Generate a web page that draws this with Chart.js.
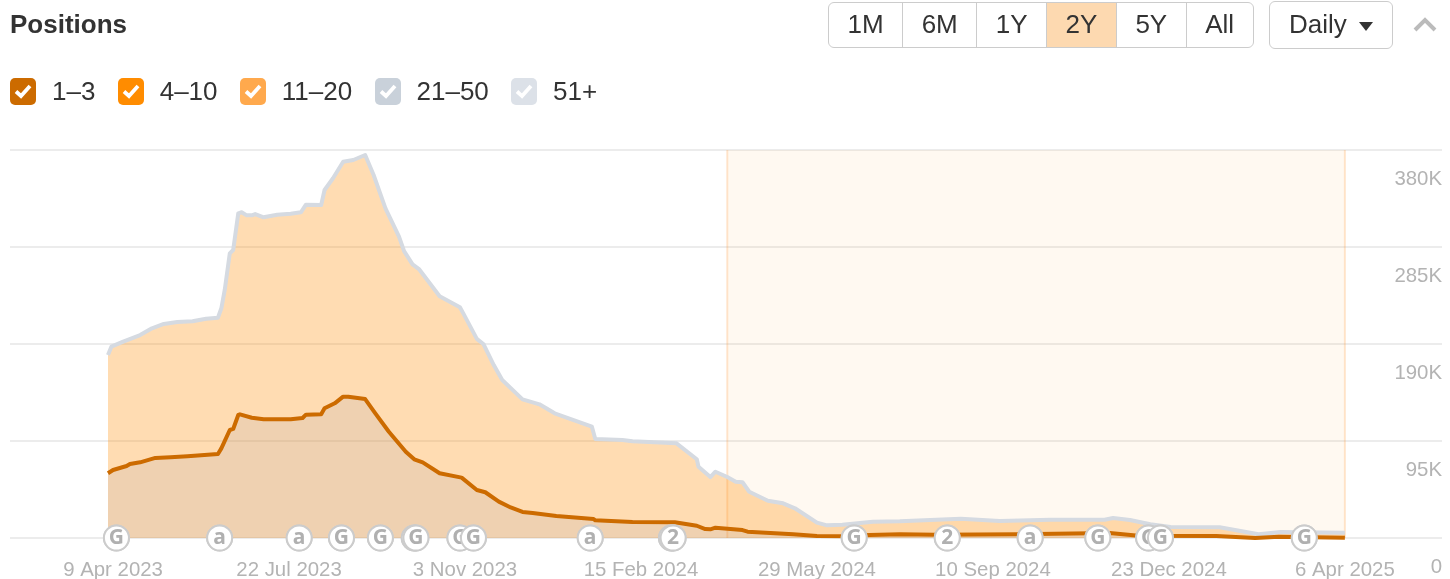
<!DOCTYPE html>
<html>
<head>
<meta charset="utf-8">
<title>Positions</title>
<script src="https://cdn.jsdelivr.net/npm/chart.js@4"></script>
<style>
  html, body { margin: 0; padding: 0; background: #fff; width: 1450px; height: 579px; overflow: hidden; }
  body { font-family: "Liberation Sans", Arial, sans-serif; color: #333; position: relative; }
  canvas { position: absolute; left: 0; top: 0; }
  .title { position: absolute; left: 10px; top: 9px; font-size: 26px; line-height: 30px; font-weight: bold; }
  .legend { position: absolute; left: 10px; top: 76px; display: flex; gap: 22.3px; font-size: 26px; line-height: 30px; }
  .legend .item { display: flex; align-items: center; }
  .legend .box { width: 26px; height: 27px; border-radius: 5px; margin-right: 16px; display: flex; align-items: center; justify-content: center; }
  .ranges { position: absolute; left: 828px; top: 2px; height: 46px; display: flex; box-sizing: border-box; border: 1.5px solid #ccc; border-radius: 6px; overflow: hidden; }
  .ranges div { padding: 0 18.5px; font-size: 26px; line-height: 43px; border-left: 1.5px solid #ccc; }
  .ranges div:first-child { border-left: 0; }
  .ranges .on { background: #fdd9b0; }
  .daily { position: absolute; left: 1269px; top: 1px; width: 124px; height: 48px; box-sizing: border-box; border: 1.5px solid #ccc; border-radius: 6px; font-size: 26px; line-height: 45px; padding-left: 19px; }
  .daily i { position: absolute; left: 89px; top: 20px; border: 7.5px solid transparent; border-top: 9px solid #333; border-bottom: 0; }
  .chev { position: absolute; left: 1413px; top: 16px; }
</style>
</head>
<body>
<canvas id="chart" width="1450" height="579"></canvas>
<div class="title">Positions</div>
<div class="legend" id="legend"></div>
<div class="ranges" id="ranges"></div>
<div class="daily">Daily<i></i></div>
<svg class="chev" width="24" height="16" viewBox="0 0 24 16"><path d="M2 14 L12 4 L22 14" fill="none" stroke="#bbb" stroke-width="4"/></svg>
<script>
const legendNames = ['1–3', '4–10', '11–20', '21–50', '51+'];
const legendColors = ['#cc6b00', '#ff8c00', '#ffa94d', '#c9d1da', '#dce1e8'];
const rangeNames = ['1M', '6M', '1Y', '2Y', '5Y', 'All'];
const activeRange = '2Y';

// days since 6 Apr 2023
const tickDays = [3, 107, 211, 315, 419, 523, 627, 731];
const tickLabels = ['9 Apr 2023', '22 Jul 2023', '3 Nov 2023', '15 Feb 2024', '29 May 2024', '10 Sep 2024', '23 Dec 2024', '6 Apr 2025'];
const yTicks = [0, 95000, 190000, 285000, 380000];
const yTickLabels = ['0', '95K', '190K', '285K', '380K'];

const topDays = [0, 2, 9, 19, 26, 33, 41, 50, 58, 65, 67, 69, 72, 74, 77, 79, 82, 85, 87, 92, 100, 108, 114, 117, 126, 128, 133, 139, 145, 152, 157, 164, 172, 175, 180, 184, 196, 208, 210, 218, 222, 228, 233, 245, 255, 264, 286, 288, 304, 310, 336, 348, 349, 356, 359, 366, 371, 375, 379, 390, 399, 406, 419, 425, 434, 452, 468, 504, 527, 557, 589, 594, 604, 616, 628, 657, 680, 693, 731];
const topValues = [179.2, 187.4, 192.3, 198.8, 205.4, 209.6, 211.5, 212.2, 214.8, 215.8, 225, 242.9, 278.8, 282.1, 318, 319, 316, 316, 317.3, 314.1, 316.6, 317.6, 319, 326.4, 326.1, 340.8, 352.3, 368.5, 370.2, 375.1, 355.5, 322.9, 295.1, 281, 268, 263, 236.7, 226, 220, 195, 189.7, 169.4, 154.7, 135.8, 130.9, 122.1, 109, 97, 96, 94.7, 92.7, 77.1, 69.8, 59.7, 64.9, 59.7, 55.1, 54.6, 45.3, 36.5, 34, 29.1, 15, 12.4, 13, 16, 16.4, 18.9, 16.6, 17.9, 17.9, 19.6, 17.6, 13.4, 10.8, 10.5, 3.6, 5.9, 5.2];

const lowDays = [0, 3, 11, 13, 19, 28, 37, 47, 65, 67, 72, 74, 77, 78, 85, 92, 108, 115, 117, 126, 128, 134, 139, 142, 152, 158, 166, 176, 181, 186, 196, 209, 218, 223, 231, 238, 245, 251, 265, 287, 288, 310, 335, 348, 353, 356, 359, 375, 378, 405, 419, 439, 450, 468, 489, 538, 592, 609, 655, 678, 692, 731];
const lowValues = [63.4, 66.6, 70.5, 72.5, 74.1, 78.4, 79, 80, 82.3, 87.8, 105.8, 106.8, 120.5, 121.1, 117.8, 116.3, 116.3, 117.5, 120.8, 121.1, 127, 131.9, 138.4, 138.4, 136.1, 122.1, 104.1, 84.5, 77.1, 74.1, 63.4, 59.1, 47, 44.8, 35.6, 29.9, 25.5, 24.5, 21.5, 18.6, 17.3, 15.7, 15.4, 12, 8.8, 8.5, 10.1, 7.8, 6.2, 3.6, 2, 1.7, 2.9, 3.6, 3.2, 3.6, 4.9, 2.3, 2, 0, 1.3, 0.3];

const markerDays = [5, 66, 113, 138, 161, 181, 182, 208, 216, 285, 333, 334, 441, 496, 545, 585, 615, 622, 707];
const markerLetters = ['G', 'a', 'a', 'G', 'G', 'G', 'G', 'G', 'G', 'a', '2', '2', 'G', '2', 'a', 'G', 'G', 'G', 'G'];

const bandStart = 366;
const bandEnd = 731;

const toPoints = (days, values) => days.map((d, i) => ({ x: d, y: values[i] * 1000 }));

document.getElementById('legend').innerHTML = legendNames.map((name, i) =>
  `<div class="item"><span class="box" style="background:${legendColors[i]}"><svg width="18" height="16" viewBox="0 0 18 16"><path d="M2 8.5 L7 13 L16 3" fill="none" stroke="#fff" stroke-width="3.8"/></svg></span>${name}</div>`
).join('');
document.getElementById('ranges').innerHTML = rangeNames.map(name =>
  `<div class="${name === activeRange ? 'on' : ''}">${name}</div>`
).join('');

const bandPlugin = {
  id: 'band',
  beforeDatasetsDraw(chart) {
    const { ctx, scales: { x, y } } = chart;
    const left = x.getPixelForValue(bandStart);
    const right = x.getPixelForValue(bandEnd);
    const top = y.getPixelForValue(yTicks[yTicks.length - 1]);
    const bottom = y.getPixelForValue(0);
    ctx.save();
    ctx.fillStyle = 'rgba(255, 140, 0, 0.055)';
    ctx.fillRect(left, top, right - left, bottom - top);
    ctx.strokeStyle = 'rgba(255, 160, 70, 0.26)';
    ctx.lineWidth = 2;
    ctx.beginPath();
    ctx.moveTo(left, top);
    ctx.lineTo(left, bottom);
    ctx.moveTo(right, top);
    ctx.lineTo(right, bottom);
    ctx.stroke();
    ctx.restore();
  }
};

// axis labels sit under their grid line, and the event letters go on the circles
const labelsPlugin = {
  id: 'labels',
  afterDatasetsDraw(chart) {
    const { ctx, scales: { y } } = chart;
    ctx.save();
    ctx.font = '20.4px "Liberation Sans", Arial, sans-serif';
    ctx.fillStyle = '#b3b3b3';
    ctx.textAlign = 'right';
    ctx.textBaseline = 'middle';
    yTicks.forEach((v, i) => {
      ctx.fillText(yTickLabels[i], 1442, y.getPixelForValue(v) + 29);
    });
    ctx.font = 'bold 21px "Open Sans", "Liberation Sans", sans-serif';
    ctx.textAlign = 'center';
    chart.getDatasetMeta(0).data.forEach((el, i) => {
      el.draw(ctx);
      ctx.fillStyle = '#b0b0b0';
      ctx.fillText(markerLetters[i], el.x, el.y);
    });
    ctx.restore();
  }
};

new Chart(document.getElementById('chart'), {
  type: 'line',
  data: {
    datasets: [
      {
        label: 'events',
        data: markerDays.map(d => ({ x: d, y: 0 })),
        showLine: false,
        pointRadius: 12.5,
        pointBackgroundColor: '#fff',
        pointBorderColor: '#cccccc',
        pointBorderWidth: 2,
        clip: false
      },
      {
        label: '1–3',
        data: toPoints(lowDays, lowValues),
        borderColor: '#cc6b00',
        borderWidth: 4,
        backgroundColor: 'rgba(146, 150, 165, 0.15)',
        fill: 'origin',
        pointRadius: 0,
        borderJoinStyle: 'round',
        clip: false
      },
      {
        label: '51+',
        data: toPoints(topDays, topValues),
        borderColor: '#d5dae1',
        borderWidth: 4,
        backgroundColor: 'rgba(255, 140, 0, 0.3)',
        fill: 'origin',
        pointRadius: 0,
        borderJoinStyle: 'round',
        clip: false
      }
    ]
  },
  options: {
    responsive: false,
    animation: false,
    layout: { autoPadding: false, padding: { top: 150, left: 10, right: 8, bottom: 0 } },
    plugins: { legend: { display: false }, tooltip: { enabled: false } },
    scales: {
      x: {
        type: 'linear',
        min: -57.9,
        max: 788.4,
        afterBuildTicks: scale => { scale.ticks = tickDays.map(v => ({ value: v })); },
        afterFit: scale => { scale.height = 41; },
        grid: { display: false },
        border: { display: false },
        ticks: {
          autoSkip: false,
          maxRotation: 0,
          padding: 12,
          color: '#b3b3b3',
          font: { family: '"Liberation Sans", Arial, sans-serif', size: 20.4 },
          callback: (value, index) => tickLabels[index]
        }
      },
      y: {
        position: 'right',
        min: 0,
        max: 380000,
        afterBuildTicks: scale => { scale.ticks = yTicks.map(v => ({ value: v })); },
        afterFit: scale => { scale.width = 0; },
        grid: { color: '#ececec', lineWidth: 2, drawTicks: false },
        border: { display: false },
        ticks: { display: false }
      }
    }
  },
  plugins: [bandPlugin, labelsPlugin]
});
</script>
</body>
</html>
